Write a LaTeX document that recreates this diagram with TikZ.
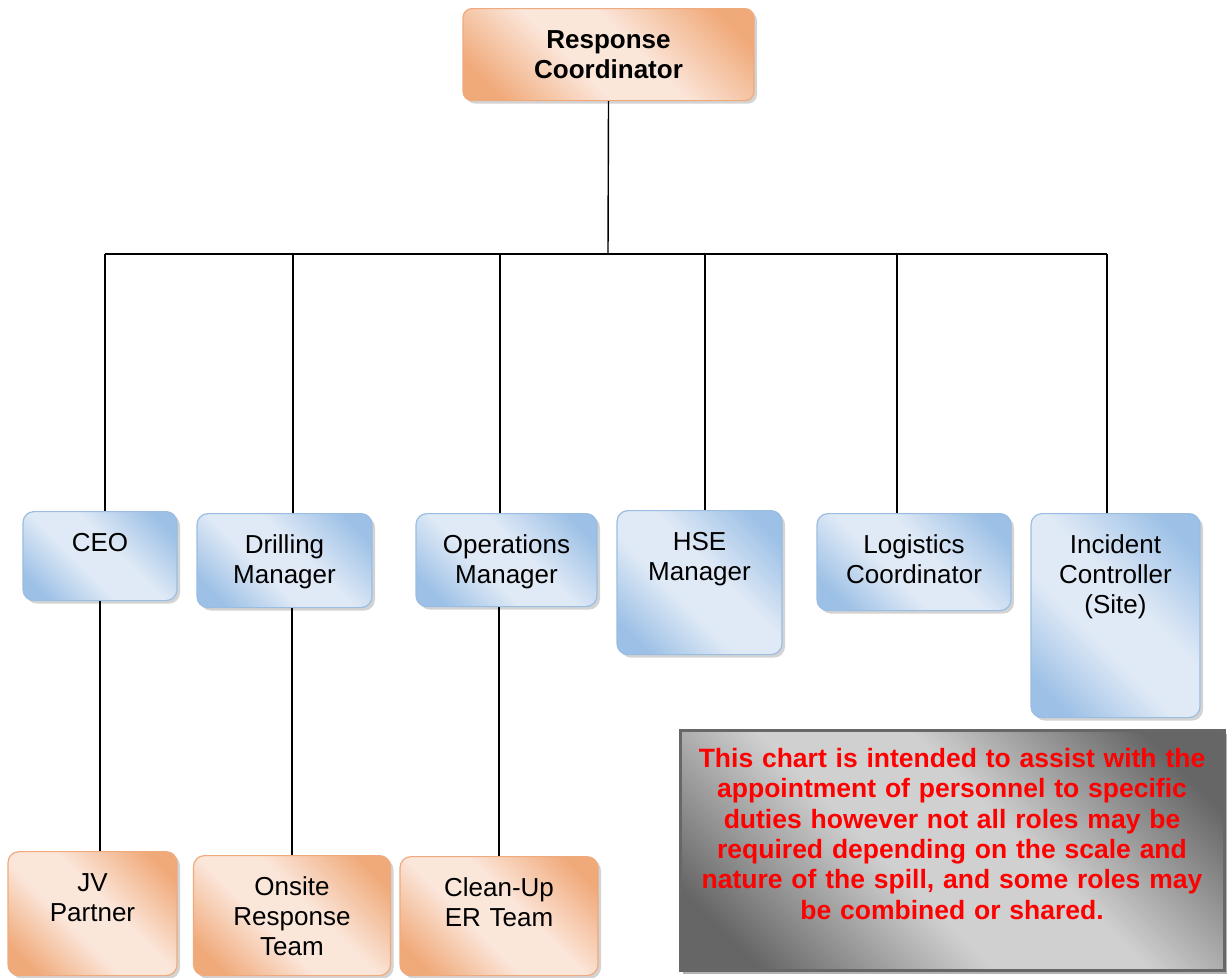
\documentclass[tikz,border=0pt]{standalone}
\usepackage{fontspec}
\setmainfont{Liberation Sans}
\usetikzlibrary{shadows}
\definecolor{bluedark}{HTML}{9CC0E6}
\definecolor{bluelight}{HTML}{E0EAF6}
\definecolor{blueline}{HTML}{9ABDE2}
\definecolor{orangedark}{HTML}{F0AA7A}
\definecolor{orangelight}{HTML}{FBE6DA}
\definecolor{orangeline}{HTML}{EFAA7E}
\definecolor{greydark}{HTML}{666666}
\definecolor{greylight}{HTML}{D0D0D0}
\definecolor{greyline}{HTML}{676767}
\pgfdeclareverticalshading{blueshade}{100bp}{color(0bp)=(bluedark); color(22bp)=(bluedark); color(42bp)=(bluelight); color(56bp)=(bluelight); color(78bp)=(bluedark); color(100bp)=(bluedark)}
\pgfdeclareverticalshading{orangeshade}{100bp}{color(0bp)=(orangedark); color(22bp)=(orangedark); color(42bp)=(orangelight); color(56bp)=(orangelight); color(78bp)=(orangedark); color(100bp)=(orangedark)}
\pgfdeclareverticalshading{greyshade}{100bp}{color(0bp)=(greydark); color(22bp)=(greydark); color(43bp)=(greylight); color(57bp)=(greylight); color(78bp)=(greydark); color(100bp)=(greydark)}

\begin{document}
\begin{tikzpicture}[x=1pt, y=-1pt,
    box/.style={draw, rounded corners=11pt, line width=1.2pt, anchor=north, inner xsep=0pt, inner ysep=0pt, align=center, text height=40pt, font=\fontsize{26}{30}\selectfont, drop shadow={shadow xshift=3pt, shadow yshift=-3pt, opacity=0.35}},
    bluebox/.style={box, draw=blueline, shading=blueshade, shading angle=-45},
    orangebox/.style={box, draw=orangeline, shading=orangeshade, shading angle=-45},
    notebox/.style={draw=greyline, line width=3pt, anchor=north, inner xsep=0pt, inner ysep=0pt, align=center, text=red, text height=37pt, font=\bfseries\fontsize{26.5}{30.3}\selectfont, shading=greyshade, shading angle=-45, drop shadow={shadow xshift=3pt, shadow yshift=-3pt, fill=black!30, opacity=1}},
    link/.style={line width=1.4pt}]
    \useasboundingbox (0,0) rectangle (1228,977);

    % head of the chart
    \node[orangebox, text width=291pt, text depth=52pt, rounded corners=9pt] (coord) at (608.5,8) {\bfseries Response\\\bfseries Coordinator};

    % second row
    \node[bluebox, text width=154pt, text depth=49pt] (ceo) at (100,511) {CEO};
    \node[bluebox, text width=175pt, text depth=54pt] (drill) at (284.5,513) {Drilling\\Manager};
    \node[bluebox, text width=181pt, text depth=53pt] (ops) at (506.5,513) {Operations\\Manager};
    \node[bluebox, text width=165pt, text depth=104pt] (hse) at (699.5,510) {HSE\\Manager};
    \node[bluebox, text width=194pt, text depth=57pt] (logi) at (914,513) {Logistics\\Coordinator};
    \node[bluebox, text width=169pt, text depth=164pt] (inc) at (1115.5,513) {Incident\\Controller\\(Site)};

    % third row
    \node[orangebox, text width=169pt, text depth=84pt] (jv) at (92.5,851) {JV\\Partner};
    \node[orangebox, text width=197pt, text depth=80pt] (onsite) at (292,855) {Onsite\\Response\\Team};
    \node[orangebox, text width=198pt, text depth=79pt] (clean) at (499,856) {Clean-Up\\ER Team};

    % note
    \node[notebox, text width=544pt, text depth=203pt] (note) at (952,729) {This chart is intended to assist with the\\appointment of personnel to specific\\duties however not all roles may be\\required depending on the scale and\\nature of the spill, and some roles may\\be combined or shared.};

    % connectors
    \coordinate (bar) at (608,254);
    \draw[link] (coord.south) -- (bar);
    \draw[link] (105,254) -- (1107,254);
    \foreach \x/\n in {105/ceo, 293/drill, 500/ops, 705/hse, 897/logi, 1107/inc}
        \draw[link] (\x,254) -- (\x,254 |- \n.north);
    \draw[link] (ceo.south) -- (ceo.south |- jv.north);
    \draw[link] (drill.south -| onsite.north) -- (onsite.north);
    \draw[link] (ops.south -| clean.north) -- (clean.north);
\end{tikzpicture}
\end{document}
